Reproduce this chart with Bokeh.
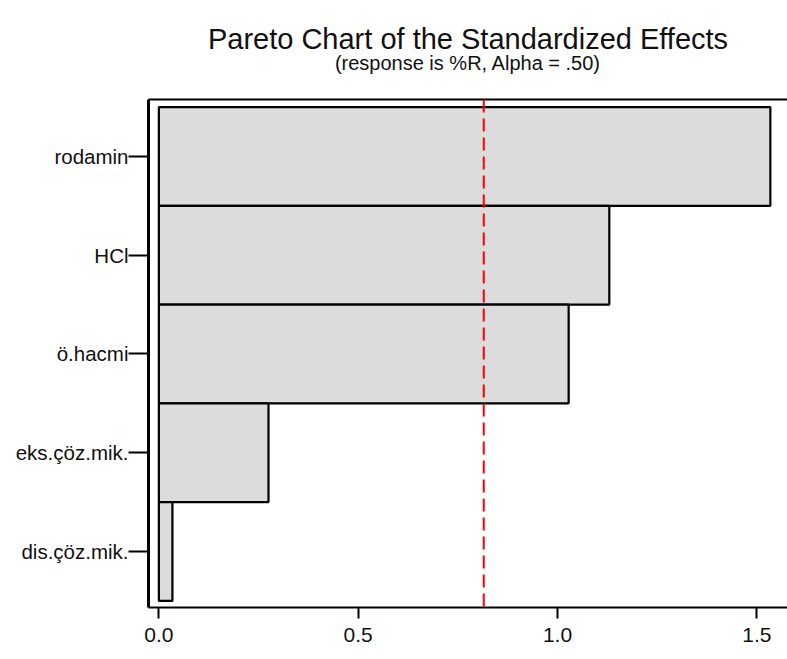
from bokeh.plotting import figure
from bokeh.models import Range1d, FixedTicker, LinearAxis, Span, Title, ColumnDataSource
from bokeh.embed import file_html
from bokeh.resources import INLINE

# ---- data ----
factors = ["rodamin", "HCl", "ö.hacmi", "eks.çöz.mik.", "dis.çöz.mik."]
effects = [1.534, 1.130, 1.028, 0.275, 0.034]
alpha_ref = 0.815
x_ticks = [0.0, 0.5, 1.0, 1.5]
x_tick_labels = ["0.0", "0.5", "1.0", "1.5"]
title_text = "Pareto Chart of the Standardized Effects"
subtitle_text = "(response is %R, Alpha = .50)"

FONT = "Liberation Sans"

n = len(factors)
ypos = [n - 1 - i for i in range(n)]
src = ColumnDataSource(dict(y=ypos, v=effects, name=factors))

p = figure(width=787, height=659, output_backend="svg", toolbar_location=None,
           x_range=Range1d(-0.026, 1.577), y_range=Range1d(-0.567, n - 1 + 0.577),
           min_border_left=148, min_border_right=0, min_border_top=99, min_border_bottom=52,
           x_axis_location=None, y_axis_location=None)
p.outline_line_color = None
p.xgrid.visible = False
p.ygrid.visible = False
p.background_fill_color = "white"
p.border_fill_color = "white"

p.hbar(y="y", right="v", left=0, height=1.0, source=src,
       fill_color="#DCDCDC", line_color="black", line_width=2.2)

p.add_layout(Span(location=alpha_ref, dimension="height", line_color="#FF0000",
                  line_width=2, line_dash="13 6"))

# axes
yaxis = LinearAxis(ticker=FixedTicker(ticks=ypos),
                   major_label_overrides={yy: f for yy, f in zip(ypos, factors)})
yaxis.axis_line_width = 3
yaxis.major_tick_out = 20
yaxis.major_tick_in = 0
yaxis.major_tick_line_width = 2
yaxis.minor_tick_line_color = None
yaxis.major_label_standoff = 0
yaxis.major_label_text_font = FONT
yaxis.major_label_text_font_size = "20.5px"
yaxis.major_label_text_color = "#111111"
p.add_layout(yaxis, "left")

xaxis = LinearAxis(ticker=FixedTicker(ticks=x_ticks),
                   major_label_overrides={t: l for t, l in zip(x_ticks, x_tick_labels)})
xaxis.axis_line_width = 2
xaxis.major_tick_out = 11
xaxis.major_tick_in = 0
xaxis.major_tick_line_width = 2
xaxis.minor_tick_line_color = None
xaxis.major_label_standoff = 9
xaxis.major_label_text_font = FONT
xaxis.major_label_text_font_size = "21px"
xaxis.major_label_text_color = "#111111"
p.add_layout(xaxis, "below")

top = LinearAxis(ticker=FixedTicker(ticks=[]))
top.axis_line_width = 2
top.major_tick_line_color = None
top.minor_tick_line_color = None
top.major_label_text_font_size = "0px"
p.add_layout(top, "above")

# subtitle first (closest to the frame), then the main title
p.add_layout(Title(text=subtitle_text, align="center", offset=14, standoff=52,
                   vertical_align="bottom",
                   text_font=FONT, text_font_size="20px", text_font_style="normal",
                   text_color="#111111"), "above")
p.add_layout(Title(text=title_text, align="center", offset=14, standoff=-63,
                   vertical_align="bottom",
                   text_font=FONT, text_font_size="29px", text_font_style="normal",
                   text_color="#111111"), "above")

open("out.html", "w").write(file_html(p, INLINE))
